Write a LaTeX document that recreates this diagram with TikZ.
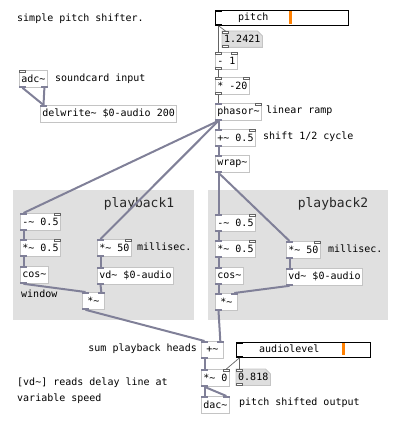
\documentclass[tikz,border=0pt]{standalone}
\usepackage{fontspec}
\newfontfamily\pdfont{DejaVu Sans Mono}
\usetikzlibrary{backgrounds}
\definecolor{sigc}{RGB}{128,128,152}
\definecolor{ctlc}{RGB}{100,100,100}
\definecolor{boxc}{RGB}{196,196,196}
\definecolor{canv}{RGB}{224,224,224}
\definecolor{numf}{RGB}{222,222,222}
\definecolor{slo}{RGB}{255,128,0}
\newcommand\psiL[1]{\fill[sigc] (#1.north west) rectangle ++(7,2.2);}
\newcommand\psiR[1]{\fill[sigc] (#1.north east) rectangle ++(-7,2.2);}
\newcommand\psoL[1]{\fill[sigc] (#1.south west) rectangle ++(7,-2.2);}
\newcommand\pciL[1]{\draw[ctlc,fill=white,line width=0.6pt] ([xshift=.4pt,yshift=-.4pt]#1.north west) rectangle ++(6.2,1.8);}
\newcommand\pciR[1]{\draw[ctlc,fill=white,line width=0.6pt] ([xshift=-.4pt,yshift=-.4pt]#1.north east) rectangle ++(-6.2,1.8);}
\newcommand\pcoL[1]{\draw[ctlc,fill=white,line width=0.6pt] ([xshift=.4pt,yshift=.4pt]#1.south west) rectangle ++(6.2,-1.8);}
\begin{document}
\begin{tikzpicture}[x=1pt,y=-1pt,
  pdf/.style={font=\pdfont\fontsize{10}{12}\selectfont},
  obj/.style={pdf,draw=boxc,fill=white,anchor=north west,inner xsep=2pt,inner ysep=0pt,minimum height=17pt,text=black,line width=0.8pt},
  numbox/.style={pdf,anchor=north west,inner xsep=2pt,inner ysep=0pt,minimum height=16pt,text=black},
  cmt/.style={pdf,anchor=west,inner sep=0pt,text=black},
  big/.style={font=\pdfont\fontsize{13}{15}\selectfont,anchor=center,inner sep=0pt,text=black!85},
  slider/.style={draw=black,fill=white,anchor=north west,inner sep=0pt,minimum height=15pt,line width=0.8pt},
  sig/.style={draw=sigc,line width=2pt},
  ctl/.style={draw=ctlc,line width=0.7pt}]
\useasboundingbox (0,0) rectangle (402,422);
% canvases
\fill[canv] (13,190) rectangle (194,320);
\fill[canv] (208,190) rectangle (388,320);
\node[big] (pb1) at (139,204) {playback1};
\node[big] (pb2) at (333,204) {playback2};
% comments
\node[cmt] (c0) at (17,19) {simple pitch shifter.};
\node[cmt] (c1) at (55,79) {soundcard input};
\node[cmt] (c2) at (266,111) {linear ramp};
\node[cmt] (c3) at (263,137) {shift 1/2 cycle};
\node[cmt] (c4) at (21,294) {window};
\node[cmt] (c5) at (137,247) {millisec.};
\node[cmt] (c6) at (328,249) {millisec.};
\node[cmt,anchor=east] (c7) at (197,349) {sum playback heads};
\node[cmt] (c8) at (17,383) {[vd\char`\~] reads delay line at};
\node[cmt] (c9) at (17,399) {variable speed};
\node[cmt] (c10) at (239,403) {pitch shifted output};
% sliders
\node[slider,minimum width=133pt] (pitch) at (215,10) {};
\fill[slo] (289,11) rectangle (292,24);
\node[cmt] (pl) at (238,18) {pitch};
\fill[black] (pitch.north west) rectangle ++(7,2);
\fill[black] (pitch.south west) rectangle ++(7,-2);
\node[slider,minimum width=134pt] (alev) at (236,342) {};
\fill[slo] (342,343) rectangle (345,355);
\node[cmt] (al) at (259,349) {audiolevel};
\fill[black] (alev.north west) rectangle ++(7,2);
\fill[black] (alev.south west) rectangle ++(7,-2);
% number boxes
\node[numbox,minimum width=39pt] (num1) at (222,31) {1.2421};
\node[numbox,minimum width=32pt] (num2) at (236,369) {0.818};
\begin{pgfonlayer}{background}
\foreach \n in {num1,num2}{
\filldraw[fill=numf,draw=boxc,line width=0.8pt] (\n.north west) -- ([xshift=-5pt]\n.north east) -- ([yshift=-5pt]\n.north east) -- (\n.south east) -- (\n.south west) -- cycle;}
\end{pgfonlayer}
% objects
\node[obj] (adc) at (19,70) {adc\char`\~};
\node[obj] (delw) at (40,105) {delwrite\char`\~{} \$0-audio 200};
\node[obj] (minus1) at (215,52) {- 1};
\node[obj] (mul20) at (215,77) {* -20};
\node[obj] (phasor) at (215,103) {phasor\char`\~};
\node[obj] (plus05) at (215,129) {+\char`\~{} 0.5};
\node[obj] (wrap) at (215,155) {wrap\char`\~};
\node[obj] (subA) at (20,213) {-\char`\~{} 0.5};
\node[obj] (mulA) at (20,239) {*\char`\~{} 0.5};
\node[obj] (cosA) at (20,266) {cos\char`\~};
\node[obj] (msA) at (97,239) {*\char`\~{} 50};
\node[obj] (vdA) at (97,267) {vd\char`\~{} \$0-audio};
\node[obj,minimum width=22pt] (prodA) at (82,292) {*\char`\~};
\node[obj] (subB) at (215,214) {-\char`\~{} 0.5};
\node[obj] (mulB) at (215,240) {*\char`\~{} 0.5};
\node[obj] (cosB) at (215,267) {cos\char`\~};
\node[obj,minimum width=22pt] (prodB) at (215,293) {*\char`\~};
\node[obj] (msB) at (286,241) {*\char`\~{} 50};
\node[obj] (vdB) at (286,268) {vd\char`\~{} \$0-audio};
\node[obj,minimum width=22pt] (sum) at (201,341) {+\char`\~};
\node[obj] (gain) at (201,369) {*\char`\~{} 0};
\node[obj] (dac) at (201,396) {dac\char`\~};
% control connections
\draw[ctl] ([xshift=3.5pt]pitch.south west) -- ([xshift=3.5pt]minus1.north west);
\draw[ctl] ([xshift=3.5pt]pitch.south west) -- ([xshift=3.5pt]num1.north west);
\draw[ctl] ([xshift=3.5pt]minus1.south west) -- ([xshift=3.5pt]mul20.north west);
\draw[ctl] ([xshift=3.5pt]mul20.south west) -- ([xshift=3.5pt]phasor.north west);
\draw[ctl] ([xshift=3.5pt]alev.south west) -- ([xshift=-3.5pt]gain.north east);
\draw[ctl] ([xshift=3.5pt]alev.south west) -- ([xshift=3.5pt]num2.north west);
% signal connections
\draw[sig] ([xshift=3.5pt]adc.south west) -- ([xshift=3.5pt]delw.north west);
\draw[sig] ([xshift=-3.5pt]adc.south east) -- ([xshift=3.5pt]delw.north west);
\draw[sig] ([xshift=3.5pt]phasor.south west) -- ([xshift=3.5pt]plus05.north west);
\draw[sig] ([xshift=3.5pt]phasor.south west) -- ([xshift=3.5pt]subA.north west);
\draw[sig] ([xshift=3.5pt]phasor.south west) -- ([xshift=3.5pt]msA.north west);
\draw[sig] ([xshift=3.5pt]plus05.south west) -- ([xshift=3.5pt]wrap.north west);
\draw[sig] ([xshift=3.5pt]wrap.south west) -- ([xshift=3.5pt]subB.north west);
\draw[sig] ([xshift=3.5pt]wrap.south west) -- ([xshift=3.5pt]msB.north west);
\draw[sig] ([xshift=3.5pt]subA.south west) -- ([xshift=3.5pt]mulA.north west);
\draw[sig] ([xshift=3.5pt]mulA.south west) -- ([xshift=3.5pt]cosA.north west);
\draw[sig] ([xshift=3.5pt]cosA.south west) -- ([xshift=3.5pt]prodA.north west);
\draw[sig] ([xshift=3.5pt]msA.south west) -- ([xshift=3.5pt]vdA.north west);
\draw[sig] ([xshift=3.5pt]vdA.south west) -- ([xshift=-3.5pt]prodA.north east);
\draw[sig] ([xshift=3.5pt]subB.south west) -- ([xshift=3.5pt]mulB.north west);
\draw[sig] ([xshift=3.5pt]mulB.south west) -- ([xshift=3.5pt]cosB.north west);
\draw[sig] ([xshift=3.5pt]cosB.south west) -- ([xshift=3.5pt]prodB.north west);
\draw[sig] ([xshift=3.5pt]msB.south west) -- ([xshift=3.5pt]vdB.north west);
\draw[sig] ([xshift=3.5pt]vdB.south west) -- ([xshift=-3.5pt]prodB.north east);
\draw[sig] ([xshift=3.5pt]prodA.south west) -- ([xshift=3.5pt]sum.north west);
\draw[sig] ([xshift=3.5pt]prodB.south west) -- ([xshift=-3.5pt]sum.north east);
\draw[sig] ([xshift=3.5pt]sum.south west) -- ([xshift=3.5pt]gain.north west);
\draw[sig] ([xshift=3.5pt]gain.south west) -- ([xshift=3.5pt]dac.north west);
\draw[sig] ([xshift=3.5pt]gain.south west) -- ([xshift=-3.5pt]dac.north east);
% inlets / outlets
\pciL{adc} \psoL{adc} \fill[sigc] (adc.south east) rectangle ++(-7,-2.2);
\psiL{delw}
\pciL{minus1} \pciR{minus1} \pcoL{minus1}
\pciL{mul20} \pciR{mul20} \pcoL{mul20}
\psiL{phasor} \pciR{phasor} \psoL{phasor}
\psiL{plus05} \pciR{plus05} \psoL{plus05}
\psiL{wrap} \psoL{wrap}
\foreach \n in {subA,mulA,msA,subB,mulB,msB}{\psiL{\n} \pciR{\n} \psoL{\n}}
\foreach \n in {cosA,vdA,cosB,vdB}{\psiL{\n} \psoL{\n}}
\foreach \n in {prodA,prodB,sum,dac}{\psiL{\n} \psiR{\n}}
\foreach \n in {prodA,prodB,sum}{\psoL{\n}}
\psiL{gain} \pciR{gain} \psoL{gain}
\pciL{num1} \pcoL{num1} \pciL{num2} \pcoL{num2}
\end{tikzpicture}
\end{document}
